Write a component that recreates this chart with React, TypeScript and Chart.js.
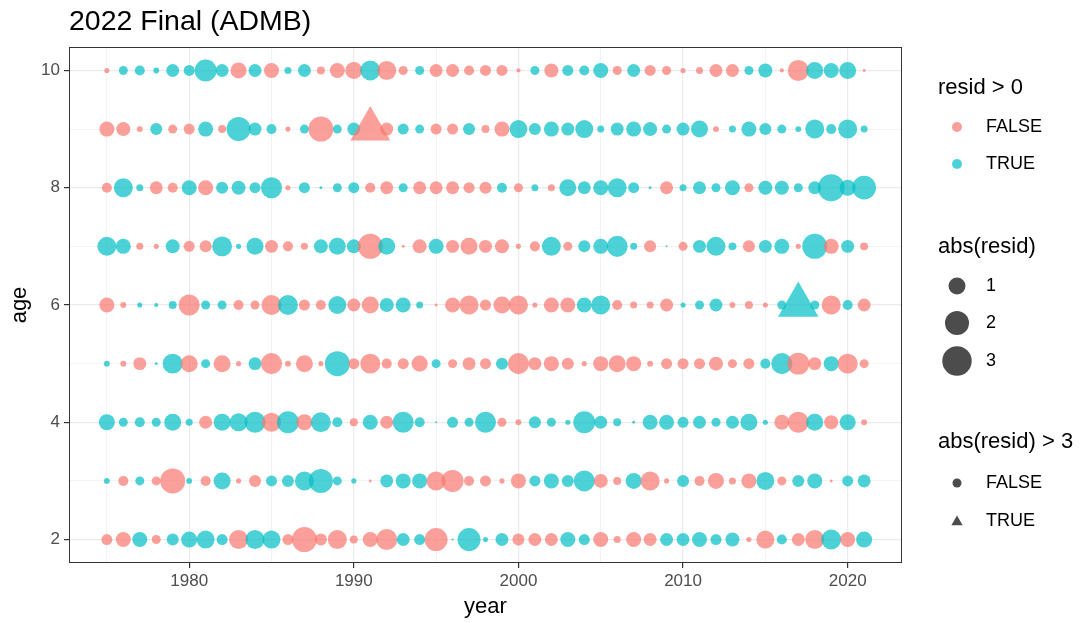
import React, { useEffect, useRef } from 'react';
import { Chart, registerables } from 'chart.js';

Chart.register(...registerables);

const FONT = '"Liberation Sans", Arial, Helvetica, sans-serif';

const years = [
  1975, 1976, 1977, 1978, 1979, 1980, 1981, 1982, 1983, 1984, 1985, 1986, 1987, 1988, 1989, 1990,
  1991, 1992, 1993, 1994, 1995, 1996, 1997, 1998, 1999, 2000, 2001, 2002, 2003, 2004, 2005, 2006,
  2007, 2008, 2009, 2010, 2011, 2012, 2013, 2014, 2015, 2016, 2017, 2018, 2019, 2020, 2021,
];
const ages = [2, 3, 4, 5, 6, 7, 8, 9, 10];

// signed residuals per age, one value per year (1975..2021)
const residAge2 = [
  -0.42, -0.78, 0.78, -0.28, 0.5, 0.89, 1.12, 0.42, -1.25, 1.25, 1.12, -0.42, -2.16, -0.5, -1.25, -0.22,
  -0.78, -1.53, 0.58, 0.42, -1.83, 0.01, 1.83, 0.09, 0.58, -0.5, -0.58, -0.58, 0.78, 0.42, -0.78, -0.17,
  -0.78, -0.58, 0.58, 0.58, 0.78, 0.42, 0.68, -0.09, -1.12, 0.35, -0.58, -1.25, 1.38, -0.78, 0.89,
];
const residAge3 = [
  0.12, -0.35, 0.28, -0.28, -2.16, 0.12, -0.35, 1.0, -0.09, -0.5, 0.42, 0.5, 1.25, 2.0, 0.28, 0.09,
  -0.03, 0.58, 0.78, 0.78, -1.25, -1.67, -0.35, -0.42, -0.09, -0.78, 0.42, 0.78, 0.5, 1.53, -0.68, -0.22,
  0.89, -1.25, -0.09, 0.5, -0.35, -0.89, -0.17, -0.78, 1.12, -0.28, 0.5, 0.78, -0.03, 0.42, 0.58,
];
const residAge4 = [
  0.89, 0.28, 0.35, 0.28, 1.0, 0.17, -0.58, 1.0, 1.12, 1.53, -1.25, 1.67, -0.89, 1.38, 0.35, -0.22,
  0.78, -0.58, 1.53, 0.35, 0.01, 0.42, 0.28, 1.53, -0.28, -0.12, 0.5, 0.28, 0.09, 1.67, 0.58, 0.22,
  0.03, 0.78, 0.78, 0.42, 0.58, 0.28, 0.58, 1.0, 0.09, -0.78, -1.53, 1.0, -0.68, 0.89, -0.12,
];
const residAge5 = [
  0.12, -0.12, -0.58, 0.03, 1.38, -1.0, 0.28, -1.0, -0.09, 0.58, -1.53, -0.12, -1.0, -0.09, 2.16, -0.42,
  -1.38, -0.35, -0.42, -0.89, 0.28, -0.28, -0.58, -0.42, 0.5, -1.53, -0.58, -0.78, -0.5, -0.09, -0.78, -1.0,
  -0.78, -0.12, -0.42, -0.42, -0.42, -0.68, -0.28, -0.42, 0.35, 1.53, -1.67, -0.58, 0.78, -1.38, -0.28,
];
const residAge6 = [
  -0.78, -0.12, 0.09, 0.06, 0.22, -1.53, 0.28, 0.28, -0.35, -0.28, -1.38, 1.38, -0.42, -0.35, 1.12, -0.58,
  -1.0, 0.68, 0.78, 0.17, -0.03, -0.78, -1.25, -0.42, -1.0, -1.25, -0.09, -0.78, -0.78, 0.78, 1.25, -0.35,
  -0.17, -0.17, -0.58, 0.09, 0.28, 0.58, -0.12, -0.22, -0.09, 0.28, 3.6, 0.28, -1.25, 0.35, -0.58,
];
const residAge7 = [
  1.25, 0.78, -0.17, -0.09, 0.68, -0.42, -0.5, 1.38, 0.09, 1.0, -0.58, -0.35, -0.17, 0.68, 1.0, 0.68,
  -2.16, 1.0, -0.03, -0.68, 0.78, -0.58, -1.0, -0.58, -0.68, -0.09, -0.35, 1.25, -0.28, 0.5, 0.78, 1.53,
  0.17, -0.5, 0.01, -0.28, 0.58, 1.25, 0.22, -0.5, 0.58, 0.78, -0.09, 2.16, -0.78, 0.58, -0.22,
];
const residAge8 = [
  -0.35, 1.25, 0.17, -0.58, -0.35, 0.78, -0.78, 0.5, 0.68, 0.42, 1.53, -0.09, 0.42, 0.03, 0.28, 0.42,
  -0.35, -0.58, 0.28, -0.58, -0.58, -0.58, -0.42, -0.5, 0.35, -0.28, 0.17, -0.17, 1.0, 0.58, 0.78, 1.25,
  0.42, 0.03, -0.58, 0.17, 0.58, 0.28, 0.78, -0.28, 0.68, 0.68, 0.28, 0.58, 2.5, 0.89, 1.95,
];
const residAge9 = [
  -0.78, -0.68, -0.12, 0.5, -0.28, -0.42, 0.78, -0.22, 2.0, 0.58, 0.35, -0.09, 0.28, -2.16, 0.28, 0.58,
  -3.5, -0.58, 0.42, 0.28, -0.42, -0.42, 0.5, -0.22, -0.78, 1.12, 0.5, 0.78, 0.58, 1.12, 0.17, 0.58,
  0.78, 0.68, 0.28, 0.58, 1.0, -0.12, 0.17, 0.78, 0.5, 0.28, 0.12, 1.25, 0.35, 1.25, 0.17,
];
const residAge10 = [
  -0.09, 0.28, 0.35, 0.12, 0.58, 0.42, 1.67, 0.58, -0.89, 0.58, -0.78, 0.17, 0.58, -0.22, -0.78, -1.0,
  1.38, -1.25, -0.28, 0.28, -0.58, -0.58, -0.35, -0.42, -0.42, -0.06, 0.28, -0.68, 0.42, 0.35, 0.78, -0.28,
  0.58, -0.42, -0.28, -0.09, -0.17, -0.58, -0.58, 0.28, 0.68, -0.06, -1.53, 1.0, 0.78, 1.0, -0.03,
];
const residByAge = [
  residAge2, residAge3, residAge4, residAge5, residAge6, residAge7, residAge8, residAge9, residAge10,
];

const xTicks = [1975, 1980, 1985, 1990, 1995, 2000, 2005, 2010, 2015, 2020];
const xLabels = [1980, 1990, 2000, 2010, 2020];
const yTicks = [2, 3, 4, 5, 6, 7, 8, 9, 10];
const yLabels = [2, 4, 6, 8, 10];

const legendSizes = [1, 2, 3];

const RED = 'rgba(248,118,109,0.7)';
const TEAL = 'rgba(0,191,196,0.7)';
const KEY = 'rgba(0,0,0,0.7)';

const radiusFor = (v: number) => Math.max(1, 8.5 * Math.sqrt(Math.abs(v)));

export default function App() {
  const ref = useRef<HTMLCanvasElement | null>(null);

  useEffect(() => {
    if (!ref.current) return;
    const points: { x: number; y: number; r: number }[] = [];
    ages.forEach((age, i) => {
      years.forEach((yr, j) => {
        points.push({ x: yr, y: age, r: residByAge[i][j] });
      });
    });

    const decor = {
      id: 'decor',
      afterDraw(chart: any) {
        const { ctx, chartArea: a } = chart;
        ctx.save();
        ctx.strokeStyle = '#333333';
        ctx.lineWidth = 1;
        ctx.strokeRect(a.left + 0.5, a.top + 0.5, a.right - a.left - 1, a.bottom - a.top - 1);

        ctx.fillStyle = '#000';
        ctx.textAlign = 'left';
        ctx.textBaseline = 'middle';
        ctx.font = `28.5px ${FONT}`;
        ctx.fillText('2022 Final (ADMB)', a.left, 22);

        ctx.font = `22px ${FONT}`;
        ctx.textAlign = 'center';
        ctx.fillText('year', (a.left + a.right) / 2, 607);
        ctx.save();
        ctx.translate(20, (a.top + a.bottom) / 2);
        ctx.rotate(-Math.PI / 2);
        ctx.fillText('age', 0, 0);
        ctx.restore();

        // legend
        const lx = 938;
        const kx = 957;
        const tx = 986;
        ctx.textAlign = 'left';
        ctx.font = `22px ${FONT}`;
        ctx.fillText('resid > 0', lx, 88);
        ctx.fillText('abs(resid)', lx, 247);
        ctx.fillText('abs(resid) > 3', lx, 442);

        ctx.font = `18px ${FONT}`;
        const dot = (y: number, r: number, color: string) => {
          ctx.beginPath();
          ctx.arc(kx, y, r, 0, Math.PI * 2);
          ctx.fillStyle = color;
          ctx.fill();
        };
        dot(127, 5, RED);
        dot(164, 5, TEAL);
        ctx.fillStyle = '#000';
        ctx.fillText('FALSE', tx, 127);
        ctx.fillText('TRUE', tx, 164);

        const sizeY = [286, 323, 361];
        legendSizes.forEach((s, i) => {
          dot(sizeY[i], radiusFor(s), KEY);
          ctx.fillStyle = '#000';
          ctx.fillText(String(s), tx, sizeY[i]);
        });

        dot(483, 4.5, KEY);
        const tr = 6.5;
        const ty = 522;
        ctx.beginPath();
        ctx.moveTo(kx, ty - tr);
        ctx.lineTo(kx + tr * 0.866, ty + tr / 2);
        ctx.lineTo(kx - tr * 0.866, ty + tr / 2);
        ctx.closePath();
        ctx.fillStyle = KEY;
        ctx.fill();
        ctx.fillStyle = '#000';
        ctx.fillText('FALSE', tx, 483);
        ctx.fillText('TRUE', tx, 521);
        ctx.restore();
      },
    };

    const chart = new Chart(ref.current, {
      type: 'scatter',
      data: {
        datasets: [
          {
            data: points as any,
            pointStyle: (c: any) => (Math.abs(c.raw?.r ?? 0) > 3 ? 'triangle' : 'circle'),
            pointRadius: (c: any) => {
              const v = c.raw?.r ?? 0;
              const r = radiusFor(v);
              return Math.abs(v) > 3 ? r * 1.45 : r;
            },
            backgroundColor: (c: any) => ((c.raw?.r ?? 0) > 0 ? TEAL : RED),
            borderWidth: 0,
            borderColor: 'transparent',
          } as any,
        ],
      },
      options: {
        animation: false,
        responsive: false,
        events: [],
        layout: { padding: { left: 0, top: 47, right: 190, bottom: 0 } },
        plugins: { legend: { display: false }, tooltip: { enabled: false }, title: { display: false } },
        scales: {
          x: {
            type: 'linear',
            min: 1972.7,
            max: 2023.3,
            afterBuildTicks: (s: any) => {
              s.ticks = xTicks.map((v) => ({ value: v }));
            },
            afterFit: (s: any) => {
              s.height = 60;
            },
            border: { display: false },
            grid: {
              color: '#EBEBEB',
              lineWidth: (c: any) => (xLabels.includes(c.tick?.value) ? 1.2 : 0.6),
              tickColor: (c: any) => (xLabels.includes(c.tick?.value) ? '#333333' : 'rgba(0,0,0,0)'),
              tickLength: 5,
              drawTicks: true,
            },
            ticks: {
              autoSkip: false,
              maxRotation: 0,
              padding: 3,
              color: '#4D4D4D',
              font: { family: FONT, size: 17 },
              callback: (v: any) => (xLabels.includes(Number(v)) ? String(v) : ''),
            },
          },
          y: {
            type: 'linear',
            min: 1.6,
            max: 10.4,
            afterBuildTicks: (s: any) => {
              s.ticks = yTicks.map((v) => ({ value: v }));
            },
            afterFit: (s: any) => {
              s.width = 69;
            },
            border: { display: false },
            grid: {
              color: '#EBEBEB',
              lineWidth: (c: any) => (yLabels.includes(c.tick?.value) ? 1.2 : 0.6),
              tickColor: (c: any) => (yLabels.includes(c.tick?.value) ? '#333333' : 'rgba(0,0,0,0)'),
              tickLength: 5,
            },
            ticks: {
              autoSkip: false,
              padding: 4,
              color: '#4D4D4D',
              font: { family: FONT, size: 17 },
              callback: (v: any) => (yLabels.includes(Number(v)) ? String(v) : ''),
            },
          },
        },
      },
      plugins: [decor],
    });
    return () => chart.destroy();
  }, []);

  return (
    <div style={{ position: 'absolute', left: 0, top: 0, width: 1092, height: 623, background: '#fff' }}>
      <canvas ref={ref} width={1092} height={623} style={{ display: 'block' }} />
    </div>
  );
}
